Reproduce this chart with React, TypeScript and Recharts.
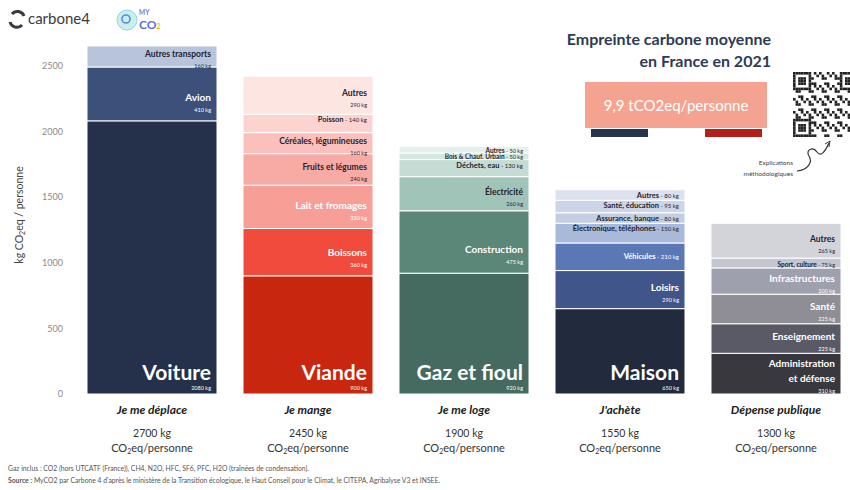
import React from "react";
import { Bar, BarChart, XAxis, YAxis } from "recharts";

const categories = ["Je me déplace", "Je mange", "Je me loge", "J'achète", "Dépense publique"];
const totals = ["2700", "2450", "1900", "1550", "1300"];
const yTicks = [0, 500, 1000, 1500, 2000, 2500];

const segNames = [
  ["Voiture", "Avion", "Autres transports"],
  ["Viande", "Boissons", "Lait et fromages", "Fruits et légumes", "Céréales, légumineuses", "Poisson", "Autres"],
  ["Gaz et fioul", "Construction", "Électricité", "Déchets, eau", "Bois & Chauf. Urbain", "Autres"],
  ["Maison", "Loisirs", "Véhicules", "Électronique, téléphones", "Assurance, banque", "Santé, éducation", "Autres"],
  ["Administration\net défense", "Enseignement", "Santé", "Infrastructures", "Sport, culture", "Autres"],
];
const segValues = [
  [2080, 410, 160],
  [900, 360, 330, 240, 160, 140, 290],
  [920, 475, 260, 130, 50, 50],
  [650, 290, 210, 150, 80, 95, 80],
  [310, 225, 225, 200, 75, 265],
];

// styling tables (colours, which labels are white / inline / big)
const segColors = [
  ["#25314a", "#3c5179", "#b7c4d9"],
  ["#c8260f", "#f04b3d", "#f79e97", "#f8aaa4", "#fbc0bb", "#fcd3cf", "#fde5e2"],
  ["#456a5f", "#5a8777", "#a0c4b7", "#c4dcd3", "#d5e7e0", "#e4f0eb"],
  ["#222a3e", "#40568a", "#5b78b6", "#a9b9d9", "#c3cee4", "#ccd5e8", "#dbe1ee"],
  ["#38383e", "#595a66", "#8e8e94", "#9ea0ae", "#c3c5cf", "#d3d4da"],
];
const whiteBelow = [2, 3, 2, 3, 4];
const inlineSegs = [[], [5], [3, 4, 5], [2, 3, 4, 5, 6], [4]];
const FONT = "Lato, 'Open Sans', sans-serif";

const data = categories.map((name, i) => {
  const row: Record<string, any> = { name, idx: i };
  segValues[i].forEach((v, k) => (row["s" + k] = v));
  return row;
});
const segKeys = [0, 1, 2, 3, 4, 5, 6];

function renderSegment(props: any, k: number) {
  const { x, y, width, height, payload } = props;
  const i = payload?.idx;
  if (i == null || !height || height <= 0.5 || segValues[i][k] == null) return <g />;
  const name = segNames[i][k];
  const value = segValues[i][k];
  const fill = segColors[i][k];
  const txt = k < whiteBelow[i] ? "#ffffff" : "#1f2330";
  const right = x + width - 6;
  const mid = y + height / 2;
  let label: React.ReactNode;
  if (k === 0 && i < 4) {
    const b = y + height;
    label = (
      <g>
        <text x={right} y={b - 14} textAnchor="end" fontSize={21} fontWeight="bold" fill={txt}>{name}</text>
        <text x={right} y={b - 4} textAnchor="end" fontSize={5.5} fill={txt}>{value} kg</text>
      </g>
    );
  } else if (inlineSegs[i].includes(k)) {
    const tiny = height < 10;
    const base = tiny ? y + height - 0.5 : height < 20 ? y + 8 : mid + 2.5;
    label = (
      <text x={right} y={base} textAnchor="end" fontSize={tiny ? 6.5 : 7.5} fontWeight="bold" fill={txt}>
        {name}
        <tspan fontWeight="normal" fontSize={tiny ? 5.5 : 6}> - {value} kg</tspan>
      </text>
    );
  } else {
    const lines = name.split("\n");
    const white = txt === "#ffffff";
    const base = mid + 1 + Math.max(0, height - 40) * 0.45 - (lines.length - 1) * 7.5;
    label = (
      <g>
        {lines.map((l, j) => (
          <text key={j} x={right} y={base + j * 15} textAnchor="end" fontSize={white ? 10 : 8.5} fontWeight="bold" fill={txt}>{l}</text>
        ))}
        <text x={right} y={base + (lines.length - 1) * 15 + 11} textAnchor="end" fontSize={5.5} fill={txt}>{value} kg</text>
      </g>
    );
  }
  return (
    <g>
      <rect x={x} y={y} width={width} height={height} fill={fill} stroke="#ffffff" strokeWidth={1} />
      {label}
    </g>
  );
}

const XTick = (props: any) => {
  const { x, y, payload, index } = props;
  return (
    <g fontFamily={FONT}>
      <text x={x} y={y + 20} textAnchor="middle" fontSize={12} fontWeight="bold" fontStyle="italic" fill="#1c1c1c">{payload.value}</text>
      <text x={x} y={y + 42.5} textAnchor="middle" fontSize={10.5} fill="#333">{totals[index]} kg</text>
      <text x={x} y={y + 57.5} textAnchor="middle" fontSize={11} fill="#333">
        CO<tspan fontSize={7} dy={2}>2</tspan><tspan dy={-2}>eq/personne</tspan>
      </text>
    </g>
  );
};

function QrCode() {
  const n = 25, s = 2.6, x0 = 793, y0 = 72;
  const cells: React.ReactNode[] = [];
  const finder = (r: number, c: number) => {
    const inF = (fr: number, fc: number) => r >= fr && r < fr + 7 && c >= fc && c < fc + 7;
    for (const [fr, fc] of [[0, 0], [0, 18], [18, 0]]) {
      if (inF(fr, fc)) {
        const rr = r - fr, cc = c - fc;
        return rr === 0 || rr === 6 || cc === 0 || cc === 6 || (rr >= 2 && rr <= 4 && cc >= 2 && cc <= 4) ? 1 : 0;
      }
    }
    return -1;
  };
  for (let r = 0; r < n; r++) {
    for (let c = 0; c < n; c++) {
      const f = finder(r, c);
      const on = f === -1 ? (r * r * 3 + c * 7 + r * c) % 5 < 2 : f === 1;
      if (on) cells.push(<rect key={r + "-" + c} x={x0 + c * s} y={y0 + r * s} width={s} height={s} fill="#222" />);
    }
  }
  return <g>{cells}</g>;
}

export default function App() {
  return (
    <div style={{ position: "relative", width: 850, height: 490, overflow: "hidden", background: "#fff", fontFamily: FONT }}>
      <style>{`body{margin:0}`}</style>
      <BarChart width={854} height={490} data={data} margin={{ top: 0, right: 0, left: 0, bottom: 0 }}>
        <XAxis dataKey="name" axisLine={false} tickLine={false} tickSize={0} tickMargin={0} interval={0} height={96} tick={<XTick />} />
        <YAxis
          width={74}
          domain={[0, 3000]}
          ticks={yTicks}
          axisLine={false}
          tickLine={false}
          tickSize={0}
          tickMargin={11}
          tick={{ fill: "#8a8a8a", fontSize: 9, fontFamily: FONT }}
        />
        {segKeys.map((k) => (
          <Bar key={k} dataKey={"s" + k} stackId="a" barSize={130} isAnimationActive={false} shape={(p: any) => renderSegment(p, k)} />
        ))}
      </BarChart>
      <svg width={850} height={490} style={{ position: "absolute", left: 0, top: 0, pointerEvents: "none" }} fontFamily={FONT}>
        <text transform="translate(23,215) rotate(-90)" textAnchor="middle" fontSize={10.5} fill="#444">
          kg CO<tspan fontSize={7} dy={2}>2</tspan><tspan dy={-2}>eq / personne</tspan>
        </text>
        {/* logos */}
        <g>
          <path d="M 12 14 A 7 7 0 0 1 24 16" stroke="#3a3a3a" strokeWidth={3} fill="none" />
          <path d="M 22 25 A 7 7 0 0 1 10 22" stroke="#3a3a3a" strokeWidth={3} fill="none" />
          <text x={28} y={24} fontSize={15} fill="#3a3a3a">carbone4</text>
          <circle cx={127} cy={20} r={10} fill="#c6f0ec" stroke="#8fd9e0" strokeWidth={1} />
          <circle cx={126} cy={19} r={4} fill="none" stroke="#6b7fe0" strokeWidth={1.6} />
          <text x={139} y={15} fontSize={6.5} fontWeight="bold" fill="#6b7fe0">MY</text>
          <text x={139} y={29} fontSize={12} fontWeight="bold" fill="#5b6ee1">CO<tspan fontSize={7} fill="#f5b400">2</tspan></text>
        </g>
        {/* title */}
        <text x={771} y={45} textAnchor="end" fontSize={16} fontWeight="bold" fill="#2e3b55">Empreinte carbone moyenne</text>
        <text x={771} y={67} textAnchor="end" fontSize={16} fontWeight="bold" fill="#2e3b55">en France en 2021</text>
        <rect x={585} y={82} width={182} height={46} fill="#f5a391" />
        <text x={676} y={111} textAnchor="middle" fontSize={15} fill="#ffffff">9,9 tCO2eq/personne</text>
        <rect x={591} y={129} width={57} height={8} fill="#27344f" />
        <rect x={705} y={129} width={57} height={8} fill="#b3201a" />
        <QrCode />
        <path d="M 797 171 C 808 170, 813 162, 809 156 C 805 150, 813 146, 817 152 C 821 158, 826 150, 829 143" stroke="#333" strokeWidth={1.2} fill="none" />
        <path d="M 825 144 L 830 141 L 829 147" stroke="#333" strokeWidth={1} fill="none" />
        <text x={793} y={165} textAnchor="end" fontSize={6.5} fill="#444">Explications</text>
        <text x={793} y={176} textAnchor="end" fontSize={6.5} fill="#444">méthodologiques</text>
        {/* footnotes */}
        <text x={8} y={471} fontSize={6.8} fill="#555">
          Gaz inclus : CO2 (hors UTCATF (France)), CH4, N2O, HFC, SF6, PFC, H2O (traînées de condensation).
        </text>
        <text x={8} y={483} fontSize={6.8} fill="#555">
          <tspan fontWeight="bold">Source :</tspan> MyCO2 par Carbone 4 d'après le ministère de la Transition écologique, le Haut Conseil pour le Climat, le CITEPA, Agribalyse V3 et INSEE.
        </text>
      </svg>
    </div>
  );
}
